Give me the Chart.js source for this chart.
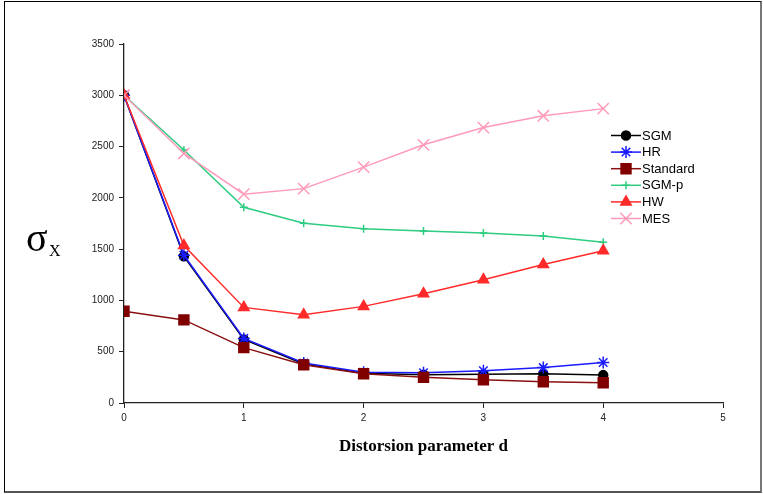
<!DOCTYPE html>
<html>
<head>
<meta charset="utf-8">
<script src="https://cdn.jsdelivr.net/npm/chart.js@4/dist/chart.umd.min.js"></script>
<style>
  body { margin: 0; background: #fff; }
  #wrap { position: relative; width: 763px; height: 494px; }
  #chart { position: absolute; left: 0; top: 0; }
  #frame {
    position: absolute; left: 4px; top: 1px; width: 755px; height: 489px;
    border-left: 1px solid #000; border-top: 1px solid #000;
    border-right: 2px solid #777; border-bottom: 2px solid #555;
    pointer-events: none;
  }
</style>
</head>
<body>
<div id="wrap">
  <canvas id="chart" width="763" height="494"></canvas>
  <div id="frame"></div>
</div>
<script>
// distortion parameter d
const dValues = [0, 0.5, 1, 1.5, 2, 2.5, 3, 3.5, 4];

const sgm      = [3000, 1430, 620, 380, 290, 275, 280, 285, 272];
const hr       = [3000, 1440, 630, 390, 300, 295, 315, 345, 395];
const standard = [895, 810, 540, 372, 285, 250, 226, 207, 197];
const sgmP     = [3000, 2466, 1908, 1752, 1700, 1677, 1657, 1628, 1567];
const hw       = [3000, 1535, 932, 860, 942, 1066, 1202, 1350, 1485];
const mes      = [3000, 2433, 2036, 2090, 2300, 2517, 2685, 2800, 2870];

const yTicks = [0, 500, 1000, 1500, 2000, 2500, 3000, 3500];
const xTicks = [0, 1, 2, 3, 4, 5];

const toPoints = (values) => values.map((v, i) => ({ x: dValues[i], y: v }));

const series = [
  { label: "SGM", data: sgm, color: "#000000", fill: "#000000", style: "circle", radius: 4.5 },
  { label: "HR", data: hr, color: "#1a1aff", fill: "#1a1aff", style: "star", radius: 6 },
  { label: "Standard", data: standard, color: "#8b1010", fill: "#800000", style: "rect", radius: 7 },
  { label: "SGM-p", data: sgmP, color: "#2ecc80", fill: "#2ecc80", style: "cross", radius: 4 },
  { label: "HW", data: hw, color: "#ff2a2a", fill: "#ff2a2a", style: "triangle", radius: 6 },
  { label: "MES", data: mes, color: "#ff9ab8", fill: "#ff9ab8", style: "crossRot", radius: 8 },
];

// legend drawn as line + marker, like the spreadsheet legend
const lineLegend = {
  id: "lineLegend",
  afterDraw(chart) {
    const ctx = chart.ctx;
    const x0 = 611, x1 = 641, top = 135.5, step = 16.6;
    ctx.save();
    chart.data.datasets.forEach((ds, i) => {
      const y = top + i * step;
      ctx.strokeStyle = ds.borderColor;
      ctx.lineWidth = 1.5;
      ctx.beginPath();
      ctx.moveTo(x0, y);
      ctx.lineTo(x1, y);
      ctx.stroke();
      ctx.fillStyle = ds.pointBackgroundColor;
      ctx.strokeStyle = ds.pointBorderColor;
      ctx.lineWidth = ds.pointBorderWidth;
      Chart.helpers.drawPoint(ctx, {
        pointStyle: ds.pointStyle,
        radius: ds.pointRadius,
        rotation: 0,
        borderWidth: ds.pointBorderWidth,
      }, (x0 + x1) / 2, y);
      ctx.fillStyle = "#000";
      ctx.font = "13px 'Liberation Sans', Arial, sans-serif";
      ctx.textBaseline = "middle";
      ctx.textAlign = "left";
      ctx.fillText(ds.label, x1 + 1, y + 0.5);
    });
    ctx.restore();
  },
};

// sigma_X label on the left
const sigmaLabel = {
  id: "sigmaLabel",
  afterDraw(chart) {
    const ctx = chart.ctx;
    ctx.save();
    ctx.fillStyle = "#000";
    ctx.textBaseline = "alphabetic";
    ctx.font = "40px 'Liberation Serif', 'Times New Roman', serif";
    ctx.fillText("σ", 26, 251);
    ctx.font = "16px 'Liberation Serif', 'Times New Roman', serif";
    ctx.fillText("X", 49, 256);
    ctx.restore();
  },
};

const plainTick = (value) => String(value);

window.addEventListener("load", () => {
  const canvas = document.getElementById("chart");
  new Chart(canvas, {
    type: "line",
    data: {
      // later series are drawn on top, as in the original spreadsheet
      datasets: series.map((s, i) => ({
        label: s.label,
        data: toPoints(s.data),
        order: series.length - i,
        borderColor: s.color,
        borderWidth: 1.5,
        pointStyle: s.style,
        pointRadius: s.radius,
        pointBackgroundColor: s.fill,
        pointBorderColor: s.fill,
        pointBorderWidth: 1.5,
        tension: 0,
        fill: false,
      })),
    },
    options: {
      responsive: false,
      animation: false,
      devicePixelRatio: 1,
      layout: { padding: { top: 44, right: 40, bottom: 0, left: 0 } },
      plugins: {
        legend: { display: false },
        title: { display: false },
        tooltip: { enabled: false },
      },
      scales: {
        x: {
          type: "linear",
          min: 0,
          max: 5,
          afterFit: (scale) => { scale.height = 91; },
          afterBuildTicks: (scale) => { scale.ticks = xTicks.map((v) => ({ value: v })); },
          ticks: {
            color: "#222",
            padding: 4,
            maxRotation: 0,
            callback: plainTick,
            font: { family: "'Liberation Sans', Arial, sans-serif", size: 10 },
          },
          grid: { drawOnChartArea: false, drawTicks: true, tickLength: 5, tickColor: "#222" },
          border: { display: true, color: "#222", width: 1.3 },
          title: {
            display: true,
            text: "Distorsion parameter d",
            color: "#000",
            font: { family: "'Liberation Serif', 'Times New Roman', serif", size: 17, weight: "bold" },
            padding: { top: 0, bottom: 37 },
          },
        },
        y: {
          min: 0,
          max: 3500,
          afterFit: (scale) => { scale.width = 124; },
          afterBuildTicks: (scale) => { scale.ticks = yTicks.map((v) => ({ value: v })); },
          ticks: {
            color: "#222",
            padding: 5,
            callback: plainTick,
            font: { family: "'Liberation Sans', Arial, sans-serif", size: 10 },
          },
          grid: { drawOnChartArea: false, drawTicks: true, tickLength: 5, tickColor: "#222" },
          border: { display: true, color: "#222", width: 1.3 },
        },
      },
    },
    plugins: [lineLegend, sigmaLabel],
  });
});
</script>
</body>
</html>
